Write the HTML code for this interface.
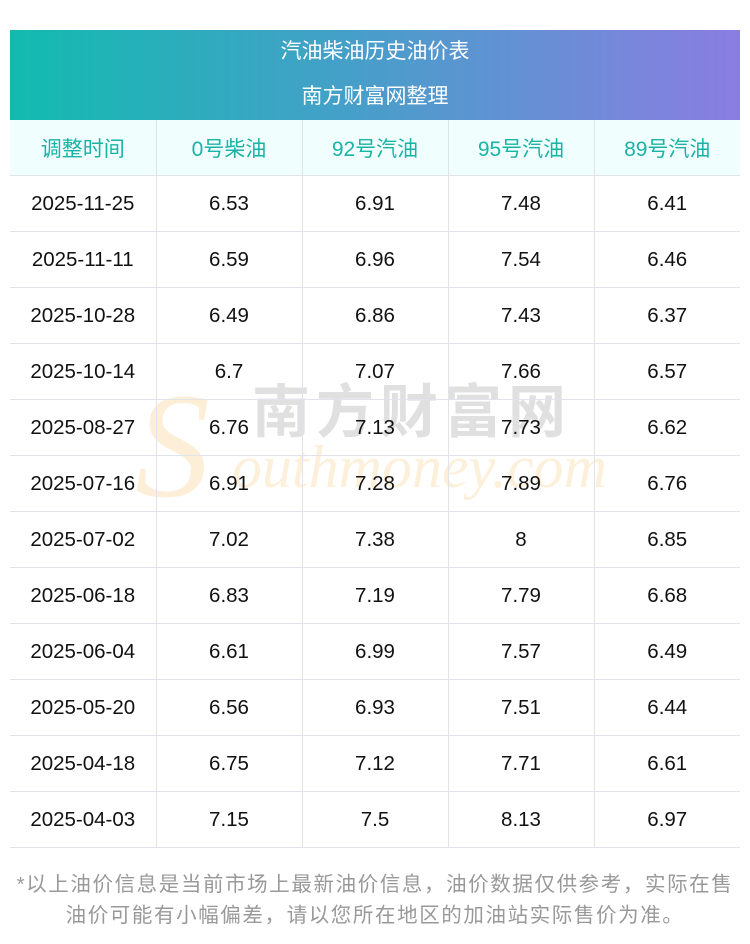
<!DOCTYPE html>
<html><head><meta charset="utf-8"><style>
body{margin:0;width:750px;height:944px;background:#fff;font-family:"Liberation Sans","Noto Sans CJK SC",sans-serif;position:relative;overflow:hidden}
.hd{position:absolute;left:10px;top:30px;width:730px;height:90px;background:linear-gradient(90deg,#12bbaf,#44a0c8 45%,#8b7de2);color:#fff;text-align:center;font-size:21px}
.hd div{height:45px;line-height:44px}
table{position:absolute;left:10px;top:120px;width:730px;border-collapse:collapse;table-layout:fixed}
td{height:55px;border-right:1px solid #e0e3ea;border-bottom:1px solid #e0e3ea;text-align:center;font-size:20.5px;color:#111;padding:0}
td:last-child{border-right:none}
tr.h td{background:#f0fefd;color:#1ab3a6;font-size:21px}
.ft{position:absolute;left:0;top:869px;width:750px;text-align:center;color:#999;font-size:20.5px;line-height:31px;letter-spacing:1.6px}
.wm{position:absolute;z-index:0;white-space:nowrap}
</style></head><body>
<div class="hd"><div>汽油柴油历史油价表</div><div>南方财富网整理</div></div>
<div class="wm" style="left:135px;top:360px;font:italic 150px 'Liberation Serif',serif;color:#fdeed8;">S</div>
<div class="wm" style="left:252px;top:372px;font:bold 58px 'Noto Sans CJK SC',sans-serif;color:#e0e0e0;letter-spacing:6px;line-height:70px">南方财富网</div>
<div class="wm" style="left:232px;top:432px;font:italic 60px 'Liberation Serif',serif;color:#fdf0da;line-height:70px">outhmoney.com</div>
<table>
<tr class="h"><td>调整时间</td><td>0号柴油</td><td>92号汽油</td><td>95号汽油</td><td>89号汽油</td></tr>
<tr><td>2025-11-25</td><td>6.53</td><td>6.91</td><td>7.48</td><td>6.41</td></tr>
<tr><td>2025-11-11</td><td>6.59</td><td>6.96</td><td>7.54</td><td>6.46</td></tr>
<tr><td>2025-10-28</td><td>6.49</td><td>6.86</td><td>7.43</td><td>6.37</td></tr>
<tr><td>2025-10-14</td><td>6.7</td><td>7.07</td><td>7.66</td><td>6.57</td></tr>
<tr><td>2025-08-27</td><td>6.76</td><td>7.13</td><td>7.73</td><td>6.62</td></tr>
<tr><td>2025-07-16</td><td>6.91</td><td>7.28</td><td>7.89</td><td>6.76</td></tr>
<tr><td>2025-07-02</td><td>7.02</td><td>7.38</td><td>8</td><td>6.85</td></tr>
<tr><td>2025-06-18</td><td>6.83</td><td>7.19</td><td>7.79</td><td>6.68</td></tr>
<tr><td>2025-06-04</td><td>6.61</td><td>6.99</td><td>7.57</td><td>6.49</td></tr>
<tr><td>2025-05-20</td><td>6.56</td><td>6.93</td><td>7.51</td><td>6.44</td></tr>
<tr><td>2025-04-18</td><td>6.75</td><td>7.12</td><td>7.71</td><td>6.61</td></tr>
<tr><td>2025-04-03</td><td>7.15</td><td>7.5</td><td>8.13</td><td>6.97</td></tr>
</table>
<div class="ft">*以上油价信息是当前市场上最新油价信息，油价数据仅供参考，实际在售<br>油价可能有小幅偏差，请以您所在地区的加油站实际售价为准。</div>
</body></html>
